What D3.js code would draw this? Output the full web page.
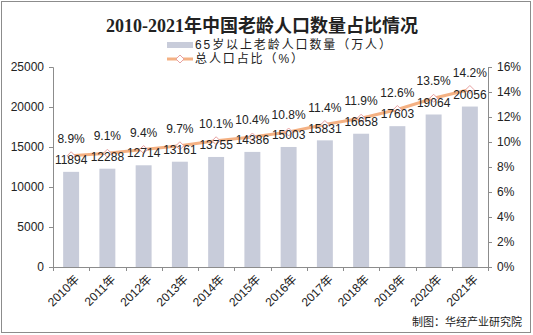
<!DOCTYPE html>
<html><head><meta charset="utf-8">
<script src="https://cdn.jsdelivr.net/npm/d3@7"></script>
<style>body{margin:0;background:#fff}svg{display:block}</style>
</head><body>
<script>
const categories = ["2010年","2011年","2012年","2013年","2014年","2015年","2016年","2017年","2018年","2019年","2020年","2021年"];
const population = [11894,12288,12714,13161,13755,14386,15003,15831,16658,17603,19064,20056];
const share = [8.9,9.1,9.4,9.7,10.1,10.4,10.8,11.4,11.9,12.6,13.5,14.2];
const leftTicks = [0,5000,10000,15000,20000,25000];
const rightTicks = [0,2,4,6,8,10,12,14,16];
const title = "2010-2021年中国老龄人口数量占比情况";
const seriesNames = ["65岁以上老龄人口数量（万人）","总人口占比（%）"];
const source = "制图：华经产业研究院";

(function(){
const W=533,H=335;
const svg=d3.select("body").append("svg").attr("width",W).attr("height",H);
const font="'Liberation Sans', Arial, 'Noto Sans CJK SC', sans-serif";
svg.append("rect").attr("x",1.5).attr("y",1.5).attr("width",529).attr("height",331)
  .attr("fill","#fff").attr("stroke","#8c8c8c").attr("stroke-width",1);

const pLeft=53,pRight=488,pTop=67,pBottom=267;
const x=d3.scaleBand().domain(categories).range([pLeft,pRight]).paddingInner(0.56).paddingOuter(0.28);
const yL=d3.scaleLinear().domain([0,25000]).range([pBottom,pTop]);
const yR=d3.scaleLinear().domain([0,16]).range([pBottom,pTop]);

svg.append("text").attr("x",262).attr("y",32).attr("text-anchor","middle")
  .attr("font-family","'Liberation Serif','Noto Sans CJK SC',serif").attr("font-weight","bold")
  .attr("font-size",18).attr("fill","#222").text(title);

const axL=d3.axisLeft(yL).tickValues(leftTicks).tickSize(4).tickPadding(5).tickFormat(d3.format("d"));
const gL=svg.append("g").attr("transform",`translate(${pLeft},0)`).call(axL);
const axR=d3.axisRight(yR).tickValues(rightTicks).tickSize(4).tickPadding(5).tickFormat(d=>d+"%");
const gR=svg.append("g").attr("transform",`translate(${pRight},0)`).call(axR);
const xTickScale=d3.scaleLinear().domain([0,categories.length]).range([pLeft,pRight]);
const gX=svg.append("g");
gX.append("line").attr("x1",pLeft).attr("x2",pRight).attr("y1",pBottom+0.5).attr("y2",pBottom+0.5).attr("stroke","#8c8c8c");
gX.selectAll("line.t").data(d3.range(categories.length+1)).join("line").attr("class","t")
  .attr("x1",d=>Math.round(xTickScale(d))+0.5).attr("x2",d=>Math.round(xTickScale(d))+0.5)
  .attr("y1",pBottom).attr("y2",pBottom+4).attr("stroke","#8c8c8c");
[gL,gR].forEach(g=>{
  g.select(".domain").attr("stroke","#8c8c8c");
  g.selectAll(".tick line").attr("stroke","#8c8c8c");
  g.selectAll("text").attr("font-family",font).attr("font-size",12).attr("fill","#222");
});
gX.selectAll("text").data(categories).join("text")
  .attr("transform",d=>`translate(${x(d)+x.bandwidth()/2+6},${pBottom+10}) rotate(-45)`)
  .attr("text-anchor","end").attr("dy","0.35em")
  .attr("font-family",font).attr("font-size",12).attr("fill","#222").text(d=>d);

svg.selectAll("rect.bar").data(population).join("rect").attr("class","bar")
  .attr("x",(d,i)=>x(categories[i])).attr("width",x.bandwidth())
  .attr("y",d=>yL(d)).attr("height",d=>pBottom-yL(d)).attr("fill","#c8ccda");

const cx=i=>x(categories[i])+x.bandwidth()/2;
const line=d3.line().x((d,i)=>cx(i)).y(d=>yR(d));
svg.append("path").datum(share).attr("d",line).attr("fill","none")
  .attr("stroke","#f4b183").attr("stroke-width",3).attr("stroke-linejoin","round");
const diamond=(px,py,r)=>`M${px},${py-r}L${px+r},${py}L${px},${py+r}L${px-r},${py}Z`;
svg.selectAll("path.mk").data(share).join("path").attr("class","mk")
  .attr("d",(d,i)=>diamond(cx(i),yR(d),4)).attr("fill","#fff").attr("stroke","#e8a0a0").attr("stroke-width",1);

svg.selectAll("text.pl").data(share).join("text").attr("class","pl")
  .attr("x",(d,i)=>cx(i)).attr("y",d=>yR(d)-17).attr("dy","0.35em").attr("text-anchor","middle")
  .attr("font-family",font).attr("font-size",12).attr("fill","#222").text(d=>d.toFixed(1)+"%");
svg.selectAll("text.vl").data(population).join("text").attr("class","vl")
  .attr("x",(d,i)=>cx(i)).attr("y",d=>yL(d)-12).attr("dy","0.35em").attr("text-anchor","middle")
  .attr("font-family",font).attr("font-size",12).attr("fill","#222").text(d=>d);

const lg=svg.append("g");
lg.append("rect").attr("x",167).attr("y",42).attr("width",26).attr("height",6).attr("fill","#c8ccda");
lg.append("text").attr("x",195).attr("y",44.5).attr("dy","0.36em").attr("font-family",font)
  .attr("font-size",12).attr("letter-spacing",1.9).attr("fill","#222").text(seriesNames[0]);
lg.append("line").attr("x1",167).attr("x2",193).attr("y1",59).attr("y2",59).attr("stroke","#f4b183").attr("stroke-width",3);
lg.append("path").attr("d",diamond(180,59,4)).attr("fill","#fff").attr("stroke","#e8a0a0");
lg.append("text").attr("x",195).attr("y",59).attr("dy","0.36em").attr("font-family",font)
  .attr("font-size",12).attr("letter-spacing",1.9).attr("fill","#222").text(seriesNames[1]);

svg.append("text").attr("x",522).attr("y",322).attr("dy","0.35em").attr("text-anchor","end")
  .attr("font-family","'Noto Sans CJK SC',sans-serif").attr("font-size",11).attr("fill","#222").text(source);
})();
</script>
</body></html>
